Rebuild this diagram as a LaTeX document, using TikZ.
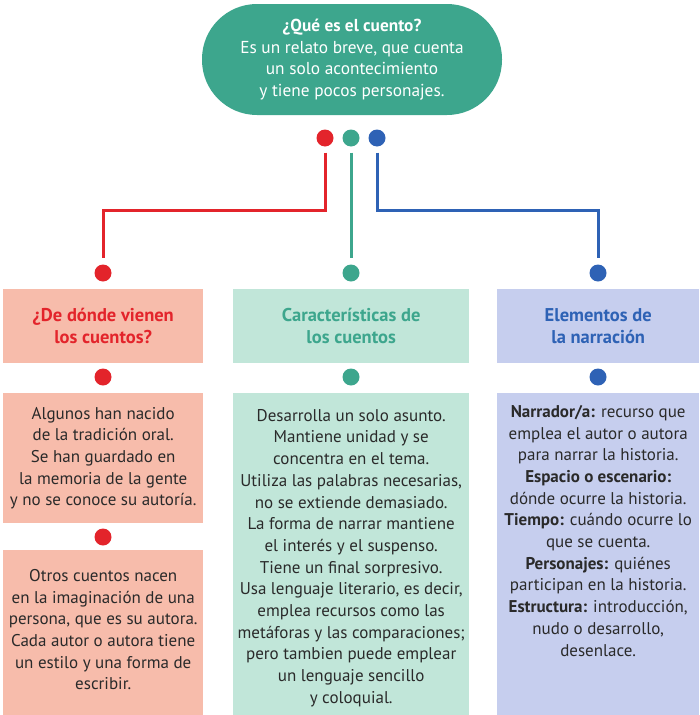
\documentclass[tikz,border=0pt]{standalone}
\usepackage{fontspec}
\setmainfont{PT Sans}
\usepackage{xcolor}
\usetikzlibrary{positioning}

\definecolor{cverde}{HTML}{3DA68D}
\definecolor{crojo}{HTML}{E3242B}
\definecolor{cazul}{HTML}{2E62B5}
\definecolor{frojo}{HTML}{F7BCAB}
\definecolor{fverde}{HTML}{C1E6D9}
\definecolor{fazul}{HTML}{C6CEEE}
\definecolor{texto}{HTML}{2A2A2A}

\tikzset{
    punto/.style={circle, fill=#1, minimum size=17pt, inner sep=0pt},
    linea/.style={draw=#1, line width=3pt},
    caja/.style={fill=#1, inner sep=0pt, anchor=north west},
    titulo/.style={font=\fontsize{18.5}{22}\selectfont\bfseries, align=center},
    cuerpo/.style={font=\fontsize{17}{21.7}\selectfont, text=texto, align=center, inner sep=0pt}
}

\begin{document}
\begin{tikzpicture}[x=1pt, y=-1pt]
    \useasboundingbox (0,0) rectangle (699,715);

    % Main question
    \node[fill=cverde, rounded corners=55pt, minimum width=300pt, minimum height=111pt,
          text=white, font=\fontsize{17.3}{21.5}\selectfont, align=center] (cuento) at (352,59.5)
        {\textbf{¿Qué es el cuento?}\\Es un relato breve, que cuenta\\un solo acontecimiento\\y tiene pocos personajes.};

    % Dots under the question
    \node[punto=crojo] (r0) at (325,138) {};
    \node[punto=cverde] (v0) at (351,138) {};
    \node[punto=cazul] (a0) at (377,138) {};

    % Dots over the headers
    \node[punto=crojo] (r1) at (103,273) {};
    \node[punto=cverde] (v1) at (351,273) {};
    \node[punto=cazul] (a1) at (598,273) {};

    % Connectors
    \coordinate (rcodo) at (103,210);
    \coordinate (acodo) at (598,210);
    \draw[linea=crojo] ([yshift=-6pt]r0.south) |- (rcodo) -- ([yshift=6pt]r1.north);
    \draw[linea=cverde] ([yshift=-6pt]v0.south) -- ([yshift=6pt]v1.north);
    \draw[linea=cazul] ([yshift=-6pt]a0.south) |- (acodo) -- ([yshift=6pt]a1.north);

    % Headers
    \node[caja=frojo, minimum width=200pt, minimum height=74pt, titulo, text=crojo] (hrojo) at (3,289)
        {¿De dónde vienen\\los cuentos?};
    \node[caja=fverde, minimum width=236pt, minimum height=74pt, titulo, text=cverde] (hverde) at (233,289)
        {Características de\\los cuentos};
    \node[caja=fazul, minimum width=202pt, minimum height=74pt, titulo, text=cazul] (hazul) at (497,289)
        {Elementos de\\la narración};

    % Dots under the headers
    \node[punto=crojo] (r2) at (103,377) {};
    \node[punto=cverde] (v2) at (351,377) {};
    \node[punto=cazul] (a2) at (598,377) {};

    % Red column
    \node[caja=frojo, minimum width=200pt, minimum height=130pt] (brojo1) at (3,393) {};
    \node[cuerpo] at (brojo1.center)
        {Algunos han nacido\\de la tradición oral.\\Se han guardado en\\la memoria de la gente\\y no se conoce su autoría.};
    \node[punto=crojo] (r3) at (103,537) {};
    \node[caja=frojo, minimum width=200pt, minimum height=165pt] (brojo2) at (3,550) {};
    \node[cuerpo, below=19pt of brojo2.north]
        {Otros cuentos nacen\\en la imaginación de una\\persona, que es su autora.\\Cada autor o autora tiene\\un estilo y una forma de\\escribir.};

    % Green column
    \node[caja=fverde, minimum width=236pt, minimum height=322pt] (bverde) at (233,393) {};
    \node[cuerpo, below=16pt of bverde.north]
        {Desarrolla un solo asunto.\\Mantiene unidad y se\\concentra en el tema.\\Utiliza las palabras necesarias,\\no se extiende demasiado.\\La forma de narrar mantiene\\el interés y el suspenso.\\Tiene un final sorpresivo.\\Usa lenguaje literario, es decir,\\emplea recursos como las\\metáforas y las comparaciones;\\pero tambien puede emplear\\un lenguaje sencillo\\y coloquial.};

    % Blue column
    \node[caja=fazul, minimum width=202pt, minimum height=322pt] (bazul) at (497,393) {};
    \node[cuerpo, below=12pt of bazul.north]
        {\textbf{Narrador/a:} recurso que\\emplea el autor o autora\\para narrar la historia.\\\textbf{Espacio o escenario:}\\dónde ocurre la historia.\\\textbf{Tiempo:} cuándo ocurre lo\\que se cuenta.\\\textbf{Personajes:} quiénes\\participan en la historia.\\\textbf{Estructura:} introducción,\\nudo o desarrollo,\\desenlace.};
\end{tikzpicture}
\end{document}
